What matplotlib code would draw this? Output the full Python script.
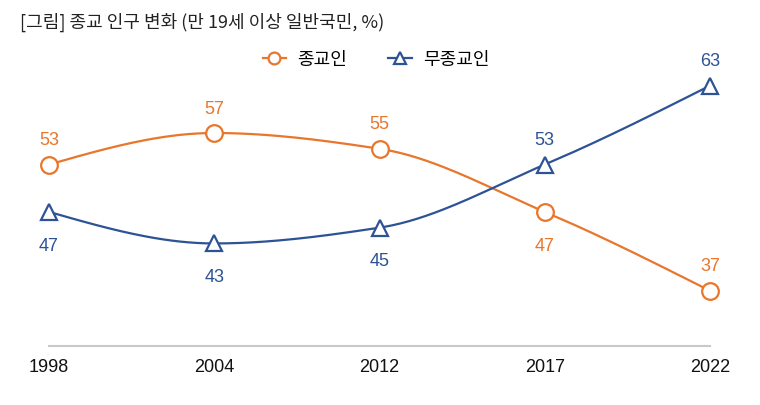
import numpy as np
import matplotlib
matplotlib.use('Agg')
import matplotlib.pyplot as plt
from matplotlib.lines import Line2D

plt.rcParams['font.family'] = ['Noto Sans CJK KR', 'DejaVu Sans']

years = ['1998', '2004', '2012', '2017', '2022']
religious = [53, 57, 55, 47, 37]
non_religious = [47, 43, 45, 53, 63]
religious_pos = ['above', 'above', 'above', 'below', 'above']
non_religious_pos = ['below', 'below', 'below', 'above', 'above']

orange = '#E8762C'
blue = '#2D5395'


def monotone(y, n=40):
    # monotone cubic (d3 curveMonotoneX style) between equally spaced points
    y = np.asarray(y, float)
    x = np.arange(len(y), dtype=float)
    d = np.diff(y)
    m = np.zeros(len(y))
    for i in range(1, len(y) - 1):
        if d[i - 1] * d[i] > 0:
            m[i] = 2 / (1 / d[i - 1] + 1 / d[i])
    m[0] = (3 * d[0] - m[1]) / 2
    m[-1] = (3 * d[-1] - m[-2]) / 2
    xs, ys = [], []
    for i in range(len(y) - 1):
        t = np.linspace(0, 1, n)
        h00 = 2 * t**3 - 3 * t**2 + 1
        h10 = t**3 - 2 * t**2 + t
        h01 = -2 * t**3 + 3 * t**2
        h11 = t**3 - t**2
        xs.append(x[i] + t)
        ys.append(h00 * y[i] + h10 * m[i] + h01 * y[i + 1] + h11 * m[i + 1])
    return np.concatenate(xs), np.concatenate(ys)


fig = plt.figure(figsize=(7.6, 4.06), dpi=100)
ax = fig.add_axes([49 / 760, (406 - 347) / 406, (710 - 49) / 760, (347 - 63) / 406])

x = np.arange(len(years))
for vals, col, mk, pos in [(religious, orange, 'o', religious_pos),
                           (non_religious, blue, '^', non_religious_pos)]:
    sx, sy = monotone(vals)
    ax.plot(sx, sy, color=col, lw=1.6, clip_on=False, zorder=2)
    ax.plot(x, vals, linestyle='none', marker=mk, ms=12,
            mfc='white', mec=col, mew=1.6, clip_on=False, zorder=3)
    for xi, v, p in zip(x, vals, pos):
        off = 18 if p == 'above' else -24
        ax.annotate(str(v), (xi, v), xytext=(0, off), textcoords='offset points',
                    ha='center', va='center', color=col, fontsize=13,
                    family=['Liberation Sans', 'DejaVu Sans'])

ax.set_xlim(0, 4)
ax.set_ylim(30, 66)
for s in ['top', 'right', 'left']:
    ax.spines[s].set_visible(False)
ax.spines['bottom'].set_color('#C8C8C8')
ax.spines['bottom'].set_linewidth(1.5)
ax.set_yticks([])
ax.set_xticks(x)
ax.set_xticklabels(years, fontsize=13, color='#111111',
                   family=['Liberation Sans Narrow', 'Liberation Sans', 'DejaVu Sans'])
ax.tick_params(axis='x', length=0, pad=9)

fig.text(20 / 760, 1 - 22 / 406, '[그림] 종교 인구 변화 (만 19세 이상 일반국민, %)',
         fontsize=13, color='#222222', va='center', ha='left')

handles = [Line2D([], [], color=orange, marker='o', mfc='white', mec=orange, ms=8.5, mew=1.6, lw=1.6),
           Line2D([], [], color=blue, marker='^', mfc='white', mec=blue, ms=8.5, mew=1.6, lw=1.6)]
fig.legend(handles, ['종교인', '무종교인'], loc='center', bbox_to_anchor=(376 / 760, 1 - 60 / 406),
           ncol=2, frameon=False, fontsize=13, handlelength=1.3, columnspacing=2.3,
           handletextpad=0.6)

fig.savefig('out.png', dpi=100, facecolor='white')
